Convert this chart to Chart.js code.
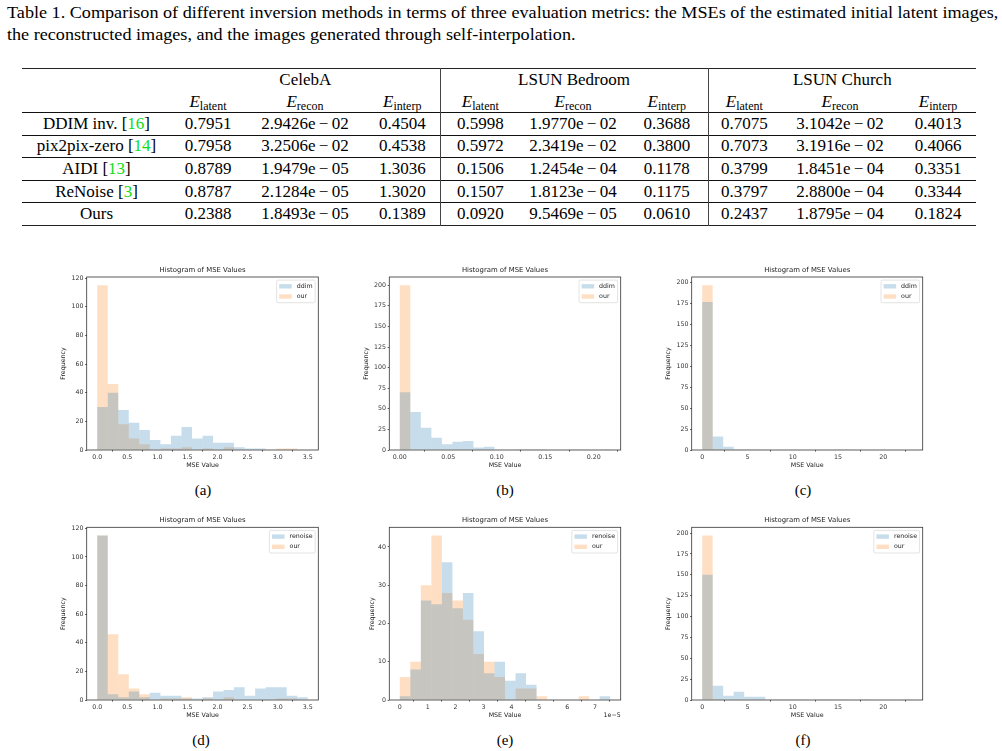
<!DOCTYPE html>
<html>
<head>
<meta charset="utf-8">
<script src="https://cdn.jsdelivr.net/npm/chart.js@4"></script>
<style>
  body { margin: 0; width: 1002px; height: 751px; position: relative; overflow: hidden; background: #fff; font-family: 'Liberation Serif', serif; color: #000; }
  .cap { position: absolute; left: 7px; font-size: 16.5px; line-height: 22px; white-space: nowrap; transform: scaleX(1.1); transform-origin: 0 0; }
  .sub { position: absolute; font-size: 15px; line-height: 18px; width: 60px; text-align: center; }
  table { position: absolute; left: 22px; top: 68px; width: 954px; border-collapse: collapse; table-layout: fixed; font-size: 17px; border-top: 1.3px solid #222; border-bottom: 1.3px solid #222; }
  td { padding: 0; text-align: center; white-space: nowrap; }
  tr.data td, tr.head2 td { border-top: 1px solid #111; }
  td.sep { border-left: 1px solid #444; }
  .g { color: #11dd11; }
  sub { font-size: 12px; vertical-align: -3px; line-height: 0; }
  canvas { position: absolute; }
</style>
</head>
<body>
<div class="cap" style="top:2px">Table 1. Comparison of different inversion methods in terms of three evaluation metrics: the MSEs of the estimated initial latent images,</div>
<div class="cap" style="top:24px">the reconstructed images, and the images generated through self-interpolation.</div>
<table id="tbl"></table>
<script>
// ---- table data ----
const tableGroups = ['CelebA', 'LSUN Bedroom', 'LSUN Church'];
const tableMetrics = ['latent', 'recon', 'interp'];
const tableMethods = ['DDIM inv.', 'pix2pix-zero', 'AIDI', 'ReNoise', 'Ours'];
const tableRefs = ['16', '14', '13', '3', ''];
const rowDDIM    = ['0.7951', '2.9426e-02', '0.4504', '0.5998', '1.9770e-02', '0.3688', '0.7075', '3.1042e-02', '0.4013'];
const rowPix2pix = ['0.7958', '3.2506e-02', '0.4538', '0.5972', '2.3419e-02', '0.3800', '0.7073', '3.1916e-02', '0.4066'];
const rowAIDI    = ['0.8789', '1.9479e-05', '1.3036', '0.1506', '1.2454e-04', '0.1178', '0.3799', '1.8451e-04', '0.3351'];
const rowReNoise = ['0.8787', '2.1284e-05', '1.3020', '0.1507', '1.8123e-04', '0.1175', '0.3797', '2.8800e-04', '0.3344'];
const rowOurs    = ['0.2388', '1.8493e-05', '0.1389', '0.0920', '9.5469e-05', '0.0610', '0.2437', '1.8795e-04', '0.1824'];
const tableRows = [rowDDIM, rowPix2pix, rowAIDI, rowReNoise, rowOurs];

// ---- histogram data (20 bins each) ----
const NBINS = 20;
const rangeAD = [0, 3.5];
const ddimA    = [30, 40, 28, 19, 14, 7, 4, 10, 16, 8, 10, 5, 5, 2, 1, 1, 0, 0, 0, 0];
const ourA     = [115, 46, 18, 8, 4, 0, 1, 1, 2, 0, 1, 0, 2, 0, 0, 0, 0, 1, 1, 0];
const renoiseD = [115, 4, 2, 6, 2, 5, 3, 3, 1, 1, 2, 6, 7, 9, 3, 8, 9, 9, 3, 2];

const rangeB = [0, 0.217];
const ddimB  = [70, 46, 27, 15, 7, 10, 11, 3, 4, 0, 0, 1, 1, 1, 0, 0, 1, 1, 0, 1];
const ourB   = [200, 0, 0, 0, 0, 0, 0, 0, 0, 0, 0, 0, 0, 0, 0, 0, 0, 0, 0, 0];

const rangeCF  = [0, 23.2];
const ddimC    = [177, 16, 4, 1, 1, 0, 0, 0, 0, 0, 0, 0, 0, 0, 0, 0, 0, 0, 0, 0];
const ourC     = [197, 1, 0, 0, 0, 1, 0, 0, 0, 0, 0, 0, 0, 1, 0, 0, 0, 0, 0, 0];
const renoiseF = [150, 17, 5, 10, 4, 4, 1, 1, 1, 1, 0, 1, 1, 0, 0, 1, 0, 0, 0, 1];

const rangeE   = [0, 7.54]; // units of 1e-5
const renoiseE = [1, 8, 26, 25, 36, 24, 28, 18, 7, 10, 5, 7, 4, 0, 0, 0, 0, 0, 0, 1];
const ourE     = [6, 10, 30, 43, 28, 26, 21, 12, 10, 6, 0, 3, 3, 1, 0, 0, 0, 1, 0, 0];

// ---- tick labels ----
const xTicksAD = [0, 0.5, 1, 1.5, 2, 2.5, 3, 3.5];
const xLabelsAD = ['0.0', '0.5', '1.0', '1.5', '2.0', '2.5', '3.0', '3.5'];
const xTicksB = [0, 0.05, 0.1, 0.15, 0.2];
const xLabelsB = ['0.00', '0.05', '0.10', '0.15', '0.20'];
const xTicksCF = [0, 5, 10, 15, 20];
const xTicksE = [0, 1, 2, 3, 4, 5, 6, 7];
const yTicks120 = [0, 20, 40, 60, 80, 100, 120];
const yTicks200 = [0, 25, 50, 75, 100, 125, 150, 175, 200];
const yTicks40 = [0, 10, 20, 30, 40];

// build table
const fmt = s => s.replace('-', '\u2009\u2212\u2009');
let html = '<colgroup>' + [149, 74, 120, 75, 80, 106, 82, 72, 120, 76].map(w => `<col style="width:${w}px">`).join('') + '</colgroup>';
html += '<tr style="height:23px"><td></td>' + tableGroups.map((g, i) => `<td colspan="3"${i ? ' class="sep"' : ''}>${g}</td>`).join('') + '</tr>';
html += '<tr style="height:21px"><td></td>' + tableGroups.map((g, i) => tableMetrics.map((m, j) => `<td${i && !j ? ' class="sep"' : ''}><i>E</i><sub>${m}</sub></td>`).join('')).join('') + '</tr>';
tableRows.forEach((r, k) => {
  const ref = tableRefs[k] ? ` [<span class="g">${tableRefs[k]}</span>]` : '';
  html += `<tr class="data" style="height:22.6px"><td>${tableMethods[k]}${ref}</td>` + r.map((v, j) => `<td${j && j % 3 === 0 ? ' class="sep"' : ''}>${fmt(v)}</td>`).join('') + '</tr>';
});
document.getElementById('tbl').innerHTML = html;

// ---- histograms ----
const blue = 'rgba(31,119,180,0.25)';
const orange = 'rgba(255,127,14,0.25)';
const FS = 6.3, LH = FS * 1.2;
const tickFont = { family: 'DejaVu Sans', size: FS };

function binCenters(range, n) {
  const w = (range[1] - range[0]) / n;
  return Array.from({ length: n }, (_, i) => range[0] + w * (i + 0.5));
}

// matplotlib-like frame, title and legend inside the axes
const framePlugin = {
  id: 'mplFrame',
  afterDraw(chart, args, opts) {
    const { ctx, chartArea: a } = chart;
    ctx.save();
    ctx.strokeStyle = '#333';
    ctx.lineWidth = 0.8;
    ctx.strokeRect(a.left, a.top, a.right - a.left, a.bottom - a.top);
    ctx.fillStyle = '#222';
    ctx.font = '6.9px "DejaVu Sans"';
    ctx.textAlign = 'center';
    ctx.textBaseline = 'middle';
    ctx.fillText(opts.title, (a.left + a.right) / 2, a.top - 7);
    const ds = chart.data.datasets;
    ctx.font = `${FS}px "DejaVu Sans"`;
    const tw = Math.max(...ds.map(d => ctx.measureText(d.label).width));
    const pad = 2.6, hw = 12.5, hh = 4.4, gap = 5, rowH = 10.2;
    const w = pad * 2 + hw + gap + tw;
    const h = pad * 2 + rowH * ds.length - 3;
    const x0 = a.right - 3.1 - w, y0 = a.top + 3.1;
    ctx.beginPath();
    ctx.roundRect(x0, y0, w, h, 1.5);
    ctx.fillStyle = 'rgba(255,255,255,0.8)';
    ctx.fill();
    ctx.strokeStyle = '#d0d0d0';
    ctx.lineWidth = 0.6;
    ctx.stroke();
    ctx.textAlign = 'left';
    ds.forEach((d, i) => {
      const cy = y0 + pad + 3.6 + i * rowH;
      ctx.fillStyle = d.backgroundColor;
      ctx.fillRect(x0 + pad, cy - hh / 2, hw, hh);
      ctx.fillStyle = '#222';
      ctx.fillText(d.label, x0 + pad + hw + gap, cy);
    });
    if (opts.offsetText) {
      ctx.textAlign = 'right';
      ctx.fillText(opts.offsetText, a.right, a.bottom + 15);
    }
    ctx.restore();
  }
};

function makeHist(p) {
  const left = Math.round(p.lx - LH / 2);
  const width = Math.round(p.ax[1] + 12 - left);
  const top = Math.round(p.ay[0] - 14);
  const height = Math.round(p.ay[1] + 22 - top);
  const cv = document.createElement('canvas');
  cv.width = width; cv.height = height;
  cv.style.left = left + 'px'; cv.style.top = top + 'px';
  cv.style.width = width + 'px'; cv.style.height = height + 'px';
  document.body.appendChild(cv);
  const centers = binCenters(p.range, NBINS);
  const span = p.range[1] - p.range[0];
  const xh = top + height - p.ay[1];
  new Chart(cv, {
    type: 'bar',
    data: {
      datasets: p.series.map((s, k) => ({
        label: p.labels[k],
        data: s.map((v, i) => ({ x: centers[i], y: v })),
        backgroundColor: k ? orange : blue,
        borderWidth: 0,
        inflateAmount: 0,
        grouped: false,
        barPercentage: 1,
        categoryPercentage: 1
      }))
    },
    options: {
      responsive: false,
      animation: false,
      devicePixelRatio: 1,
      layout: { padding: { left: 0, top: p.ay[0] - top, bottom: 0, right: left + width - p.ax[1] } },
      plugins: {
        legend: { display: false },
        tooltip: { enabled: false },
        title: { display: false },
        mplFrame: { title: 'Histogram of MSE Values', offsetText: p.offsetText }
      },
      scales: {
        x: {
          type: 'linear', offset: false,
          min: p.range[0] - 0.05 * span, max: p.range[1] + 0.05 * span,
          afterBuildTicks: s => { s.ticks = p.xTicks.map(v => ({ value: v })); },
          afterFit: s => { s.height = xh; },
          border: { display: false },
          grid: { drawOnChartArea: false, drawTicks: true, tickLength: 1.6, tickColor: '#333', lineWidth: 0.8 },
          ticks: { autoSkip: false, maxRotation: 0, padding: 1.6, color: '#333', font: tickFont,
                   callback: (v, i) => p.xLabels[i] },
          title: { display: true, text: 'MSE Value', color: '#222', font: tickFont,
                   padding: { top: 0, bottom: xh - 15 - LH / 2 } }
        },
        y: {
          min: 0, max: p.ymax,
          afterBuildTicks: s => { s.ticks = p.yTicks.map(v => ({ value: v })); },
          afterFit: s => { s.width = p.ax[0] - left; },
          border: { display: false },
          grid: { drawOnChartArea: false, drawTicks: true, tickLength: 1.6, tickColor: '#333', lineWidth: 0.8 },
          ticks: { autoSkip: false, padding: 1.6, color: '#333', font: tickFont, callback: v => String(v) },
          title: { display: true, text: 'Frequency', color: '#222', font: tickFont, padding: { top: 0, bottom: 0 } }
        }
      }
    },
    plugins: [framePlugin]
  });
}

const colAD = { ax: [86.7, 318.3], lx: 64 };
const row1 = [277, 450], row2 = [527.3, 700];

makeHist({ ...colAD, ay: row1, range: rangeAD, series: [ddimA, ourA], labels: ['ddim', 'our'],
  xTicks: xTicksAD, xLabels: xLabelsAD, yTicks: yTicks120, ymax: 120.75 });
makeHist({ ax: [389.3, 620.7], lx: 366.5, ay: row1, range: rangeB, series: [ddimB, ourB], labels: ['ddim', 'our'],
  xTicks: xTicksB, xLabels: xLabelsB, yTicks: yTicks200, ymax: 210 });
makeHist({ ax: [691.7, 922.7], lx: 668.5, ay: row1, range: rangeCF, series: [ddimC, ourC], labels: ['ddim', 'our'],
  xTicks: xTicksCF, xLabels: xTicksCF.map(String), yTicks: yTicks200, ymax: 206.85 });
makeHist({ ...colAD, ay: row2, range: rangeAD, series: [renoiseD, ourA], labels: ['renoise', 'our'],
  xTicks: xTicksAD, xLabels: xLabelsAD, yTicks: yTicks120, ymax: 120.75 });
makeHist({ ax: [389.3, 620.7], lx: 372.8, ay: row2, range: rangeE, series: [renoiseE, ourE], labels: ['renoise', 'our'],
  xTicks: xTicksE, xLabels: xTicksE.map(String), yTicks: yTicks40, ymax: 45.15, offsetText: '1e\u22125' });
makeHist({ ax: [691.7, 922.7], lx: 668.5, ay: row2, range: rangeCF, series: [renoiseF, ourC], labels: ['renoise', 'our'],
  xTicks: xTicksCF, xLabels: xTicksCF.map(String), yTicks: yTicks200, ymax: 206.85 });

// sub-figure captions
const subLabels = ['(a)', '(b)', '(c)', '(d)', '(e)', '(f)'];
const subX = [203, 505, 803, 201, 505, 803];
const subY = [481, 481, 481, 731, 731, 731];
subLabels.forEach((t, i) => {
  const d = document.createElement('div');
  d.className = 'sub';
  d.textContent = t;
  d.style.left = (subX[i] - 30) + 'px';
  d.style.top = subY[i] + 'px';
  document.body.appendChild(d);
});
</script>
</body>
</html>
